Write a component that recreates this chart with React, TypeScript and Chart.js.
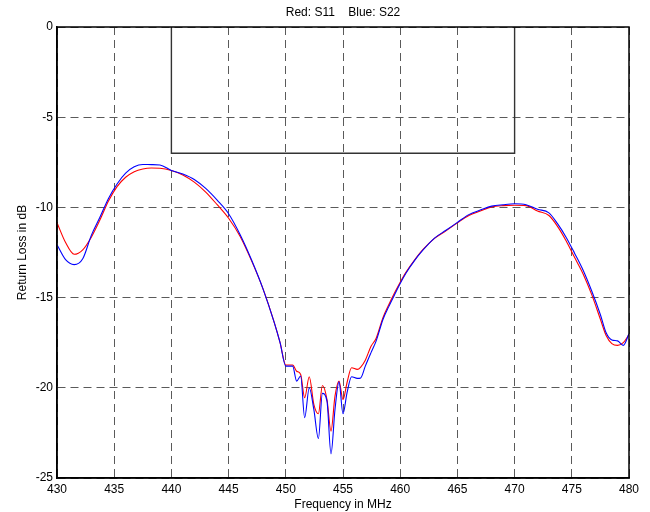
import React, { useEffect, useRef } from "react";
import { Chart, registerables } from "chart.js";

Chart.register(...registerables);

// Frequency points (MHz), shared by both traces
const freq = [
  430, 430.75, 431.5, 432.25, 433, 433.75, 434.5, 435.25, 436, 436.75, 437.5, 438.25, 439,
  440, 441, 442, 443, 444, 445, 446, 447, 448, 449, 449.5,
  450, 450.6, 450.95, 451.3, 451.65, 452.05, 452.45, 452.85, 453.2, 453.6, 453.95, 454.3,
  454.65, 455, 455.35, 455.75, 456.25, 456.55, 456.95, 457.45, 457.9, 458.5,
  459, 459.5, 460, 460.5, 461.25, 462, 463, 464, 465, 466, 467, 468, 469, 470,
  471, 472, 473, 473.75, 474.5, 475.25, 476, 476.75, 477.5, 478, 478.5, 479, 479.5, 480,
];

// Red: S11 (dB)
const s11 = [
  -10.85, -11.95, -12.6, -12.35, -11.65, -10.7, -9.65, -8.85, -8.33, -8.02, -7.87, -7.82, -7.83,
  -7.95, -8.2, -8.6, -9.15, -9.85, -10.6, -11.6, -12.95, -14.5, -16.4, -17.5,
  -18.74, -18.74, -19.08, -19.26, -20.55, -19.39, -20.92, -21.44, -19.87, -20.65, -22.4, -20.46,
  -19.63, -20.65, -19.72, -18.89, -18.98, -18.85, -18.47, -17.7, -17.25, -16.1,
  -15.4, -14.75, -14.15, -13.6, -12.92, -12.33, -11.72, -11.3, -10.86, -10.45, -10.2, -9.97, -9.9, -9.88,
  -9.9, -10.2, -10.45, -11.05, -11.85, -12.78, -13.7, -14.85, -16.2, -17.1, -17.55, -17.65, -17.5, -17.05,
];

// Blue: S22 (dB)
const s22 = [
  -12.07, -12.9, -13.17, -12.85, -11.55, -10.55, -9.5, -8.7, -8.1, -7.75, -7.62, -7.63, -7.65,
  -7.95, -8.15, -8.45, -8.95, -9.6, -10.35, -11.5, -12.9, -14.5, -16.4, -17.5,
  -18.8, -18.8, -19.63, -19.35, -21.66, -20.0, -21.2, -22.81, -20.31, -20.74, -23.66, -21.2,
  -19.67, -21.44, -20.28, -19.39, -19.48, -19.45, -18.8, -18.05, -17.4, -16.2,
  -15.5, -14.85, -14.22, -13.65, -12.95, -12.36, -11.7, -11.27, -10.83, -10.4, -10.15, -9.93, -9.85, -9.8,
  -9.85, -10.1, -10.3, -10.9, -11.65, -12.55, -13.5, -14.65, -15.95, -16.95, -17.35, -17.4, -17.65, -17.0,
];

// Specification mask
const maskFreq = [440, 440, 470, 470];
const maskLevel = [0, -7, -7, 0];

const titleText = "Red: S11    Blue: S22";
const xTitle = "Frequency in MHz";
const yTitle = "Return Loss in dB";
const xMin = 430, xMax = 480, xStep = 5;
const yMin = -25, yMax = 0, yStep = 5;

const FONT = '"Liberation Sans", Arial, Helvetica, sans-serif';
const GRID = "#5a5a5a";
const DASH = [8, 5];

const framePlugin = {
  id: "frameAndTitle",
  afterDatasetsDraw(chart: any) {
    const { ctx, chartArea } = chart;
    const { left, top, right, bottom } = chartArea;
    ctx.save();
    ctx.strokeStyle = "#000";
    ctx.lineWidth = 1.5;
    ctx.setLineDash([]);
    ctx.strokeRect(left, top, right - left, bottom - top);
    ctx.fillStyle = "#000";
    ctx.font = `12px ${FONT}`;
    ctx.textAlign = "center";
    ctx.textBaseline = "middle";
    ctx.fillText(titleText, (left + right) / 2, 13);
    ctx.restore();
  },
};

export default function App() {
  const canvasRef = useRef<HTMLCanvasElement | null>(null);

  useEffect(() => {
    if (!canvasRef.current) return;
    const pts = (xs: number[], ys: number[]) => xs.map((x, i) => ({ x, y: ys[i] }));
    const chart = new Chart(canvasRef.current, {
      type: "line",
      data: {
        datasets: [
          {
            label: "S22",
            data: pts(freq, s22),
            borderColor: "#0000ff",
            borderWidth: 1.1,
            pointRadius: 0,
            cubicInterpolationMode: "monotone",
            order: 1,
          },
          {
            label: "S11",
            data: pts(freq, s11),
            borderColor: "#ff0000",
            borderWidth: 1.1,
            pointRadius: 0,
            cubicInterpolationMode: "monotone",
            order: 2,
          },
          {
            label: "Mask",
            data: pts(maskFreq, maskLevel),
            borderColor: "#333",
            borderWidth: 1.4,
            pointRadius: 0,
            tension: 0,
            order: 0,
          },
        ],
      },
      options: {
        animation: false,
        responsive: false,
        devicePixelRatio: window.devicePixelRatio || 1,
        layout: { padding: { left: 0, right: 21, top: 27, bottom: 0 } },
        plugins: {
          legend: { display: false },
          title: { display: false },
          tooltip: { enabled: false },
        },
        scales: {
          x: {
            type: "linear",
            min: xMin,
            max: xMax,
            ticks: {
              stepSize: xStep,
              color: "#000",
              font: { family: FONT, size: 12 },
              padding: 4,
              maxRotation: 0,
            },
            grid: { color: GRID, lineWidth: 1, drawTicks: false },
            border: { display: true, color: "#000", width: 1.5, dash: DASH },
            title: {
              display: true,
              text: xTitle,
              color: "#000",
              font: { family: FONT, size: 12 },
              padding: { top: 0, bottom: 0 },
            },
            afterFit: (scale: any) => {
              scale.height = 34;
            },
          },
          y: {
            type: "linear",
            min: yMin,
            max: yMax,
            ticks: {
              stepSize: yStep,
              color: "#000",
              font: { family: FONT, size: 12 },
              padding: 4,
            },
            grid: { color: GRID, lineWidth: 1, drawTicks: false },
            border: { display: true, color: "#000", width: 1.5, dash: DASH },
            title: {
              display: true,
              text: yTitle,
              color: "#000",
              font: { family: FONT, size: 12 },
              padding: { top: 15, bottom: 0 },
            },
            afterFit: (scale: any) => {
              scale.width = 57;
            },
          },
        },
      },
      plugins: [framePlugin],
    });
    return () => chart.destroy();
  }, []);

  return (
    <div style={{ position: "absolute", left: 0, top: 0, width: 650, height: 512, background: "#fff" }}>
      <canvas ref={canvasRef} width={650} height={512} style={{ display: "block", width: 650, height: 512 }} />
    </div>
  );
}
